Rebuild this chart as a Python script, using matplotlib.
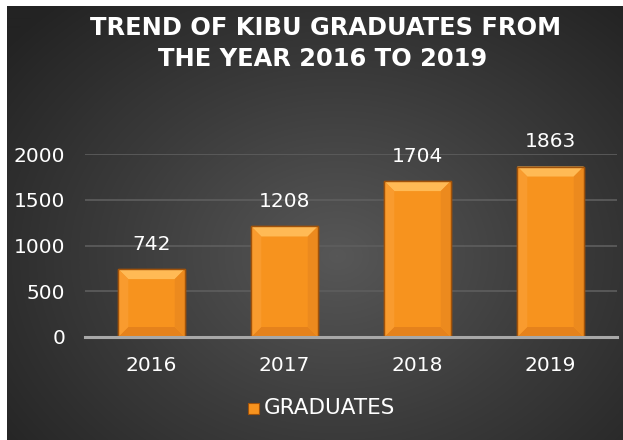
import numpy as np
import matplotlib
matplotlib.use("Agg")
import matplotlib.pyplot as plt
from matplotlib.patches import Polygon, Rectangle
from matplotlib.colors import LinearSegmentedColormap

years = ["2016", "2017", "2018", "2019"]
graduates = [742, 1208, 1704, 1863]
yticks = [0, 500, 1000, 1500, 2000]
title_lines = ["TREND OF KIBU GRADUATES FROM", "THE YEAR 2016 TO 2019"]
series_name = "GRADUATES"

W, H = 623, 440
fig = plt.figure(figsize=(W / 100, H / 100), dpi=100, facecolor="white")

# background radial gradient
bg = fig.add_axes([7 / W, 0, 1 - 7 / W, 1 - 6 / H])
bg.set_axis_off()
yy, xx = np.mgrid[0:434, 0:616]
cx, cy = 330, 250
r = np.sqrt(((xx - cx) / 430.0) ** 2 + ((yy - cy) / 340.0) ** 2)
r = np.clip(r, 0, 1)
cmap = LinearSegmentedColormap.from_list("bg", ["#575757", "#3c3c3c", "#232323"])
bg.imshow(r, cmap=cmap, vmin=0, vmax=1, aspect="auto", extent=[0, 1, 0, 1])
bg.set_xlim(0, 1)
bg.set_ylim(0, 1)

fam = ["DejaVu Sans"]
fig.text(326 / W, 1 - 28 / H, title_lines[0], ha="center", va="center",
         color="white", fontsize=17.4, fontweight="bold", family=fam)
fig.text(323 / W, 1 - 58.5 / H, title_lines[1], ha="center", va="center",
         color="white", fontsize=17.4, fontweight="bold", family=fam)

ax = fig.add_axes([85 / W, 1 - 337 / H, (617 - 85) / W, (337 - 154) / H])
ax.patch.set_alpha(0)
x = np.arange(len(years))
ax.set_xlim(-0.5, len(years) - 0.5)
ax.set_ylim(0, 2000)
bars = ax.bar(x, graduates, width=0.5, color="#F7931E", edgecolor="#A0520A",
              linewidth=1.0, zorder=3)
ax.set_yticks(yticks)
ax.yaxis.grid(True, color="#5e5e5e", linewidth=1.2, zorder=0)
ax.set_axisbelow(True)
for s in ["top", "right", "left"]:
    ax.spines[s].set_visible(False)
ax.spines["bottom"].set_color("#a8a8a8")
ax.spines["bottom"].set_linewidth(2.2)
ax.spines["bottom"].set_zorder(4)
ax.tick_params(axis="both", length=0, colors="white", labelsize=14.5)
ax.tick_params(axis="x", pad=14)
ax.tick_params(axis="y", pad=14.4)
ax.set_xticks(x)
ax.set_xticklabels(years)
for lab in ax.get_xticklabels() + ax.get_yticklabels():
    lab.set_family(fam)

# bevel effect
fig.canvas.draw()
inv = ax.transData.inverted()
bev = 10
for b in bars:
    x0, y0 = ax.transData.transform((b.get_x(), 0))
    x1, y1 = ax.transData.transform((b.get_x() + b.get_width(), b.get_height()))
    def P(pts, c, a=1.0):
        ax.add_patch(Polygon([inv.transform(p) for p in pts], closed=True,
                             facecolor=c, edgecolor="none", alpha=a, zorder=3.5))
    P([(x0, y1), (x1, y1), (x1 - bev, y1 - bev), (x0 + bev, y1 - bev)], "#FFBA55")
    P([(x0, y0), (x1, y0), (x1 - bev, y0 + bev), (x0 + bev, y0 + bev)], "#E5821C")
    P([(x0, y0), (x0, y1), (x0 + bev, y1 - bev), (x0 + bev, y0 + bev)], "#F99B2E")
    P([(x1, y0), (x1, y1), (x1 - bev, y1 - bev), (x1 - bev, y0 + bev)], "#EC8A1E")
    ax.add_patch(Rectangle((b.get_x(), 0), b.get_width(), b.get_height(),
                           facecolor="none", edgecolor="#A0520A", linewidth=1.0, zorder=3.6))

for xi, v in zip(x, graduates):
    ax.annotate(str(v), (xi, v), xytext=(0, 25), textcoords="offset pixels",
                ha="center", va="center", color="white", fontsize=14.5,
                family=fam, annotation_clip=False)

# legend
ly = 1 - 408 / H
fig.patches.append(Rectangle((248 / W, ly - 5.5 / H), 11 / W, 11 / H, transform=fig.transFigure,
                             facecolor="#F7931E", edgecolor="#A0520A", linewidth=0.8))
fig.text(264 / W, ly, series_name, ha="left", va="center", color="white",
         fontsize=15.5, family=fam)

fig.savefig("out.png", dpi=100, facecolor="white")
